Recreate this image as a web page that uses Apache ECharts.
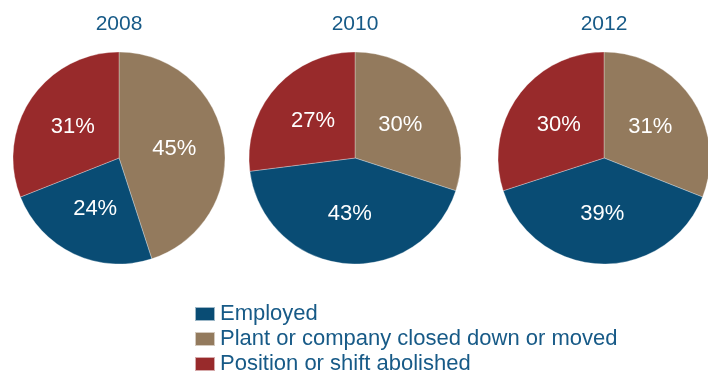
<!DOCTYPE html>
<html><head><meta charset="utf-8">
<script src="https://cdn.jsdelivr.net/npm/echarts@6/dist/echarts.min.js"></script>
<style>html,body{margin:0;padding:0;background:#fff}#c{width:708px;height:374px}</style>
</head><body><div id="c"></div>
<script>
const years = ['2008', '2010', '2012'];
const categories = ['Plant or company closed down or moved', 'Employed', 'Position or shift abolished'];
const legendOrder = ['Employed', 'Plant or company closed down or moved', 'Position or shift abolished'];
const plantClosed = [45, 30, 31];
const employed = [24, 43, 39];
const abolished = [31, 27, 30];
const colors = {'Employed':'#094c74','Plant or company closed down or moved':'#937a5d','Position or shift abolished':'#982a2b'};

const centersX = [119, 355, 604];
const chart = echarts.init(document.getElementById('c'));
const series = years.map((y, i) => ({
  type: 'pie',
  center: [centersX[i], 158],
  radius: [0, 106],
  startAngle: 90,
  clockwise: true,
  silent: true,
  animation: false,
  itemStyle: {borderColor: 'rgba(255,255,255,0.6)', borderWidth: 0.5},
  label: {position: 'inside', formatter: '{c}%', color: '#fff', fontSize: 22, fontFamily: 'Liberation Sans, Arial, sans-serif'},
  labelLine: {show: false},
  data: [
    {name: categories[0], value: plantClosed[i], itemStyle: {color: colors[categories[0]]}},
    {name: categories[1], value: employed[i], itemStyle: {color: colors[categories[1]]}},
    {name: categories[2], value: abolished[i], itemStyle: {color: colors[categories[2]]}}
  ]
}));
chart.setOption({
  animation: false,
  title: years.map((y, i) => ({
    text: y, left: centersX[i], top: 14, textAlign: 'center', padding: 0,
    textStyle: {color: '#175a87', fontSize: 21, fontWeight: 'normal', fontFamily: 'Liberation Sans, Arial, sans-serif'}
  })),
  legend: {
    data: legendOrder, orient: 'vertical', left: 189, top: 298, height: 120,
    itemWidth: 20, itemHeight: 14, itemGap: 3, icon: 'rect', selectedMode: false,
    textStyle: {color: '#175a87', fontSize: 22, fontFamily: 'Liberation Sans, Arial, sans-serif'}
  },
  series: series
});
</script></body></html>
